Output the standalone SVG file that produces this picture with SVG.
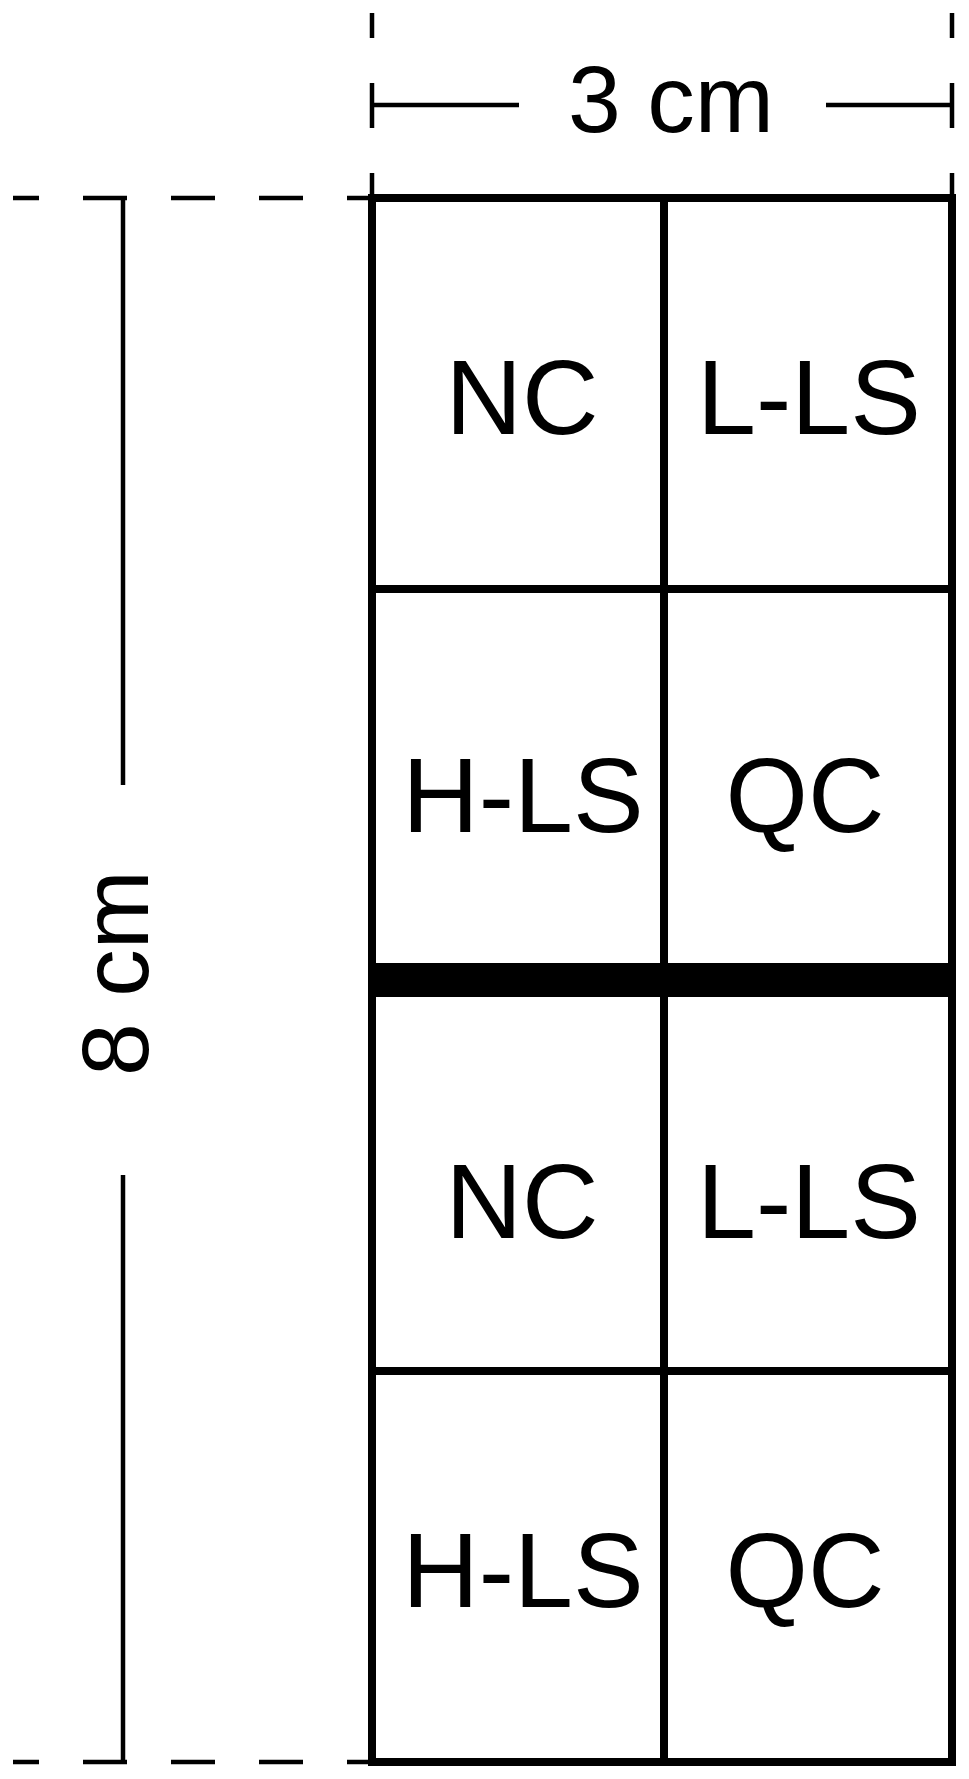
<svg xmlns="http://www.w3.org/2000/svg" width="969" height="1779" viewBox="0 0 969 1779">
<style>
.lbl{font-family:"Liberation Sans",Arial,sans-serif;font-size:106px;fill:#000;text-anchor:middle}
.dim{font-family:"Liberation Sans",Arial,sans-serif;font-size:95px;fill:#000;text-anchor:middle}
.thin{stroke:#000;stroke-width:4.5;fill:none}
.grid{stroke:#000;stroke-width:8;fill:none}
</style>
<rect width="969" height="1779" fill="#fff"/>
<g id="connectors">
  <!-- top width dimension -->
  <path class="thin" d="M372,13V38M372,83V128M372,173V198M952,13V38M952,83V128M952,173V198"/>
  <path class="thin" d="M372,105H519M826,105H952"/>
  <!-- left dashed extension lines -->
  <path class="thin" d="M13,198H39M83,198H127M171,198H215M259,198H303M347,198H372"/>
  <path class="thin" d="M13,1762H39M83,1762H127M171,1762H215M259,1762H303M347,1762H372"/>
  <!-- height dimension -->
  <path class="thin" d="M123,198V785M123,1175V1762"/>
</g>
<g id="frame">
  <rect class="grid" x="372" y="198" width="580" height="1564"/>
  <path class="grid" d="M664,198V1762M372,589H952M372,1371H952"/>
  <rect x="368" y="963" width="588" height="34" fill="#000"/>
</g>
<g id="dim-width"><text class="dim" x="671" y="132">3 cm</text></g>
<g id="dim-height"><text class="dim" transform="translate(148,973) rotate(-90)">8 cm</text></g>
<g id="cell-r1c1"><text class="lbl" x="522" y="434">NC</text></g>
<g id="cell-r1c2"><text class="lbl" x="809" y="434">L-LS</text></g>
<g id="cell-r2c1"><text class="lbl" x="523" y="832">H-LS</text></g>
<g id="cell-r2c2"><text class="lbl" x="805" y="832">QC</text></g>
<g id="cell-r3c1"><text class="lbl" x="522" y="1238">NC</text></g>
<g id="cell-r3c2"><text class="lbl" x="809" y="1238">L-LS</text></g>
<g id="cell-r4c1"><text class="lbl" x="523" y="1607">H-LS</text></g>
<g id="cell-r4c2"><text class="lbl" x="805" y="1607">QC</text></g>
</svg>
